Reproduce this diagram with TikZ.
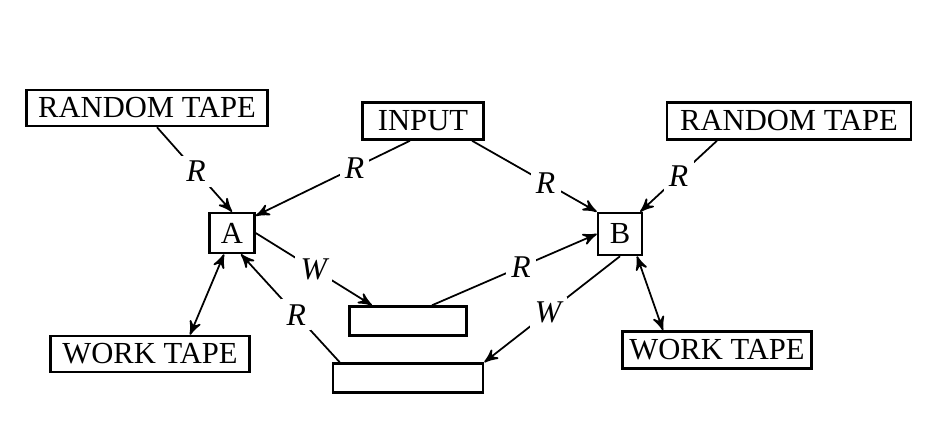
\documentclass[tikz,border=0pt]{standalone}
\usepackage{fontspec}
\setmainfont{Liberation Serif}
\usetikzlibrary{arrows}
\usetikzlibrary{positioning}

\begin{document}
\begin{tikzpicture}[->,>=stealth',shorten >=0pt,x=0.01cm,y=-0.01cm,
	line width=0.5pt,
	tape node/.style={draw,line width=0.7pt,inner sep=0pt,minimum height=0.36cm,
		font=\fontsize{8.7}{10}\selectfont},
	proc node/.style={tape node,minimum width=0.45cm,minimum height=0.40cm}]
	
	\useasboundingbox (0,0) rectangle (928,436);
	
	\node[tape node,minimum width=2.41cm] (rtl) at (147,108) {RANDOM TAPE};
	\node[tape node,minimum width=1.21cm,minimum height=0.37cm] (in) at (423,121) {INPUT};
	\node[tape node,minimum width=2.44cm,minimum height=0.37cm] (rtr) at (789,121) {RANDOM TAPE};
	\node[proc node] (A) at (232,233) {A};
	\node[proc node,minimum width=0.44cm,minimum height=0.42cm] (B) at (620,234) {B};
	\node[tape node,minimum width=1.99cm] (wtl) at (150,354) {WORK TAPE};
	\node[tape node,minimum width=1.89cm,minimum height=0.37cm] (wtr) at (717,350) {WORK TAPE};
	\node[tape node,minimum width=1.17cm,minimum height=0.29cm] (t1) at (408,321) {};
	\node[tape node,minimum width=1.50cm,minimum height=0.29cm] (t2) at (408,378) {};
	
	\path[every node/.style={fill=white,inner sep=1.5pt,font=\fontsize{9}{10}\selectfont\itshape}]
	([xshift=0.1cm]rtl.south) edge node[pos=.52] {R} (A.north)
	([xshift=-0.13cm]in.south) edge node[pos=.36] {R} ([yshift=-0.04cm]A.north east)
	([xshift=0.49cm]in.south) edge node[pos=.59] {R} (B.north west)
	([xshift=-0.72cm]rtr.south) edge node[pos=.5] {R} ([xshift=-0.03cm]B.north east)
	(A.east) edge node[pos=.5] {W} ([xshift=-0.36cm]t1.north)
	([xshift=0.24cm]t1.north) edge node[pos=.54] {R} (B.west)
	([xshift=0.08cm]t2.north west) edge node[pos=.44] {R} ([xshift=0.09cm]A.south)
	(B.south) edge node[pos=.53] {W} (t2.north east)
	([xshift=-0.08cm]A.south) edge[<->] ([xshift=0.4cm]wtl.north)
	([xshift=0.17cm]B.south) edge[<->] ([xshift=-0.54cm]wtr.north);
\end{tikzpicture}
\end{document}
